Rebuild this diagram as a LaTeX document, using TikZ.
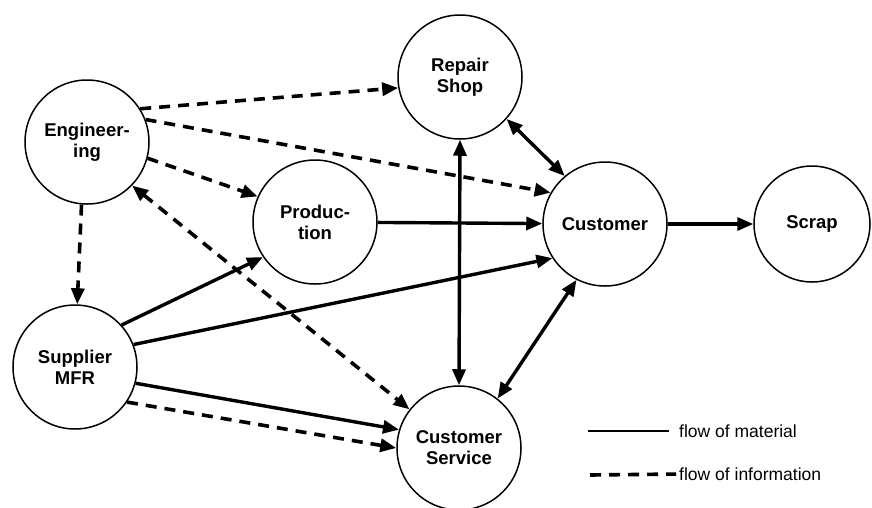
\documentclass[tikz,border=0pt]{standalone}
\usepackage{fontspec}
\setmainfont{Liberation Sans}
\usetikzlibrary{arrows.meta}
\usetikzlibrary{positioning,calc}
\tikzset{>={Triangle[length=16pt,width=13pt]},
		station/.style={circle,draw,line width=1.5pt,minimum size=124pt,inner sep=0pt,
		                align=center,font=\fontsize{18.5}{21}\selectfont\bfseries},
		matEdge/.style={->,line width=3.4pt},
		matBiEdge/.style={<->,line width=3.4pt},
		infoEdge/.style={->,line width=3.6pt,dash pattern=on 11pt off 8pt},
		infoBiEdge/.style={infoEdge,<->},
		legendText/.style={anchor=west,inner sep=0pt,font=\fontsize{17.5}{20}\selectfont},
		every node/.style={align=center}}
\begin{document}
\begin{tikzpicture}[x=1pt,y=-1pt]
				\useasboundingbox (0,0) rectangle (872,507);
				\node [station] (eng) at (87,142) {Engineer-\\ing};
				\node [station] (rep) at (460,77) {Repair\\Shop};
				\node [station] (prod) at (315,222) {Produc-\\tion};
				\node [station] (cus) at (605,224) {Customer};
				\node [station, minimum size=116pt] (scrap) at (812,224) {Scrap};
				\node [station] (sup) at (75,367) {Supplier\\MFR};
				\node [station] (cserv) at (459,448) {Customer\\Service};
				%information
				\draw [infoEdge] (eng.32) -- (rep.190);
				\draw [infoEdge] (eng.21) -- (cus.150);
				\draw [infoEdge] (eng.-15) -- (prod.156);
				\draw [infoEdge] (eng.265) -- (sup.88);
				\draw [infoBiEdge] (eng.-44) -- (cserv.142);
				\draw [infoEdge] (sup.-34) -- (cserv.180);
				%material
				\draw [matEdge] (sup.42) -- (prod.214);
				\draw [matEdge] (sup.21) -- (cus.213);
				\draw [matEdge] (sup.-15) -- (cserv.163);
				\draw [matEdge] (prod) -- (cus);
				\draw [matEdge] (cus) -- (scrap);
				\draw [matBiEdge] (rep.south) -- (cserv.north);
				\draw [matBiEdge] (rep.-42) -- (cus.130);
				\draw [matBiEdge] (cus.243) -- (cserv.52);
				%legend
				\node [legendText] (lmat) at (679,431) {flow of material};
				\node [legendText] (linfo) at (679,474) {flow of information};
				\coordinate (lmatStart) at (588,431);
				\coordinate (linfoStart) at (590,475);
				\draw [line width=1.5pt,shorten >=10pt] (lmatStart) -- (lmat.west);
				\draw [line width=3.6pt,dash pattern=on 11pt off 8pt,shorten >=3pt] (linfoStart) -- (linfo.west);
			\end{tikzpicture}
\end{document}
